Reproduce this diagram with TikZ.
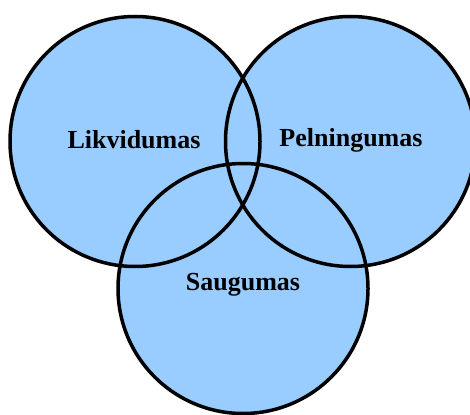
\documentclass[tikz,border=0pt]{standalone}
\usepackage{fontspec}
\setmainfont{Liberation Serif}
\usepackage{tikz}
\definecolor{skyfill}{HTML}{99CCFF}
\newcommand{\labelfont}{\fontsize{26}{31}\selectfont\bfseries}

\begin{document}
\begin{tikzpicture}[x=1pt, y=-1pt, font=\labelfont,
    ring/.style={draw=black, line width=3.5pt}]
  \useasboundingbox (0,0) rectangle (470,414);
  % fills first, outlines on top
  \foreach \cx/\cy in {135/141.5, 350.5/141.5, 243/288.5} {
    \fill[skyfill] (\cx,\cy) circle[radius=125];
  }
  \foreach \cx/\cy in {135/141.5, 350.5/141.5, 243/288.5} {
    \draw[ring] (\cx,\cy) circle[radius=125];
  }
  \node (likv) at (134,140) {Likvidumas};
  \node (peln) at (351,140) {Pelningumas};
  \node (saug) at (243,285) {Saugumas};
\end{tikzpicture}
\end{document}
